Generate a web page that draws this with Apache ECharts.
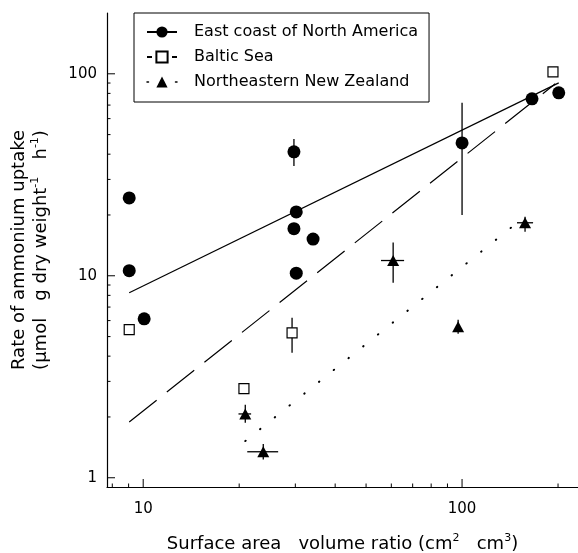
<!DOCTYPE html>
<html>
<head>
<meta charset="utf-8">
<script src="https://cdn.jsdelivr.net/npm/echarts@6/dist/echarts.min.js"></script>
<style>
  html, body { margin: 0; padding: 0; background: #fff; }
  #chart { width: 578px; height: 553px; }
</style>
</head>
<body>
<div id="chart"></div>
<script>
// ---- Data ----
const seriesNames = ['East coast of North America', 'Baltic Sea', 'Northeastern New Zealand'];

const eastX = [9.04, 9.04, 10.07, 29.7, 30.2, 29.7, 34.1, 30.2, 100, 165.7, 201];
const eastY = [24.3, 10.6, 6.12, 41.1, 20.7, 17.1, 15.2, 10.3, 45.5, 75.2, 80.5];

const balticX = [9.04, 20.7, 29.3, 192.8];
const balticY = [5.41, 2.76, 5.22, 102.3];

const nzX = [20.9, 23.8, 60.8, 97.2, 157.6];
const nzY = [2.07, 1.345, 11.9, 5.59, 18.3];

// error bars: [x, y, yLow, yHigh, xLow, xHigh]
const eastErr = [
  [29.7, 41.1, 35.0, 47.6, null, null],
  [100, 45.5, 20.0, 71.8, null, null]
];
const balticErr = [
  [29.3, 5.22, 4.16, 6.2, null, null]
];
const nzErr = [
  [20.9, 2.07, 1.87, 2.30, 19.9, 21.8],
  [23.8, 1.345, 1.23, 1.47, 21.2, 26.5],
  [60.8, 11.9, 9.23, 14.6, 55.7, 65.8],
  [97.2, 5.59, 5.16, 6.06, null, null],
  [157.6, 18.3, 16.5, 19.6, 148.7, 167]
];

// fitted regression lines (end points)
const eastFit = [[9.04, 8.24], [201, 90.2]];
const balticFit = [[9.04, 1.89], [196, 89.2]];
const nzFit = [[20.9, 1.52], [145, 17.7]];

// axes
const xRange = [7.7, 231];
const yRange = [0.9, 200];
const xMajorTicks = [10, 100];
const xMinorTicks = [8, 9, 20, 30, 40, 50, 60, 70, 80, 90, 200];
const yMajorTicks = [1, 10, 100];
const yMinorTicks = [2, 3, 4, 5, 6, 7, 8, 9, 20, 30, 40, 50, 60, 70, 80, 90];

// ---- Build chart ----
const FONT = 'DejaVu Sans';
const zip = (xs, ys) => xs.map((x, i) => [x, ys[i]]);

const tickData = [];
xMajorTicks.forEach(v => tickData.push([v, yRange[0], 0]));
xMinorTicks.forEach(v => tickData.push([v, yRange[0], 1]));
yMajorTicks.forEach(v => tickData.push([xRange[0], v, 2]));
yMinorTicks.forEach(v => tickData.push([xRange[0], v, 3]));

function tickRender(params, api) {
  const p = api.coord([api.value(0), api.value(1)]);
  const kind = api.value(2);
  const len = (kind === 0 || kind === 2) ? 8 : 3.5;
  let shape;
  if (kind < 2) shape = { x1: p[0], y1: p[1], x2: p[0], y2: p[1] - len };
  else shape = { x1: p[0], y1: p[1], x2: p[0] + len, y2: p[1] };
  return { type: 'line', shape, style: { stroke: '#000', lineWidth: 1 } };
}

function errRender(params, api) {
  const x = api.value(0), y = api.value(1);
  const children = [];
  const yl = api.value(2), yh = api.value(3), xl = api.value(4), xh = api.value(5);
  if (yl != null && !isNaN(yl)) {
    const a = api.coord([x, yl]), b = api.coord([x, yh]);
    children.push({ type: 'line', shape: { x1: a[0], y1: a[1], x2: b[0], y2: b[1] }, style: { stroke: '#000', lineWidth: 1.3 } });
  }
  if (xl != null && !isNaN(xl)) {
    const a = api.coord([xl, y]), b = api.coord([xh, y]);
    children.push({ type: 'line', shape: { x1: a[0], y1: a[1], x2: b[0], y2: b[1] }, style: { stroke: '#000', lineWidth: 1.3 } });
  }
  return { type: 'group', children };
}

const isPow10 = v => Math.abs(Math.log10(v) - Math.round(Math.log10(v))) < 1e-6;

const chart = echarts.init(document.getElementById('chart'), null, { renderer: 'canvas' });
chart.setOption({
  animation: false,
  backgroundColor: '#fff',
  textStyle: { fontFamily: FONT, color: '#000' },
  grid: { left: 107, right: 0, top: 13, bottom: 66, containLabel: false, outerBoundsMode: 'none' },
  legend: {
    orient: 'vertical',
    left: 134,
    top: 13,
    padding: [11, 11, 12, 12],
    itemWidth: 30,
    itemHeight: 14,
    itemGap: 9,
    borderColor: '#000',
    borderWidth: 1,
    textStyle: { fontFamily: FONT, fontSize: 16, color: '#000', padding: [0, 0, 0, 12] },
    data: [
      { name: seriesNames[0] },
      { name: seriesNames[1], lineStyle: { type: [5, 20] } },
      { name: seriesNames[2], lineStyle: { type: [1.5, 27], width: 1.5 } }
    ]
  },
  xAxis: {
    type: 'log', logBase: 10, min: xRange[0], max: xRange[1],
    axisLine: { show: true, lineStyle: { color: '#000', width: 1.2 } },
    axisTick: { show: false },
    splitLine: { show: false },
    axisLabel: {
      fontFamily: FONT, fontSize: 15, color: '#000', margin: 15,
      showMinLabel: false, showMaxLabel: false,
      formatter: v => isPow10(v) ? String(Math.round(v)) : ''
    },
    name: 'Surface area   volume ratio (cm{sup|2}   cm{sup|3})',
    nameLocation: 'middle',
    nameGap: 46,
    nameTextStyle: {
      fontFamily: FONT, fontSize: 18, color: '#000', lineHeight: 22,
      rich: { sup: { fontFamily: FONT, fontSize: 11, verticalAlign: 'top', lineHeight: 22, padding: [0, 0, 6, 0] } }
    }
  },
  yAxis: {
    type: 'log', logBase: 10, min: yRange[0], max: yRange[1],
    axisLine: { show: true, lineStyle: { color: '#000', width: 1.2 } },
    axisTick: { show: false },
    splitLine: { show: false },
    axisLabel: {
      fontFamily: FONT, fontSize: 15, color: '#000', margin: 10,
      showMinLabel: false, showMaxLabel: false,
      formatter: v => isPow10(v) ? String(Math.round(v)) : ''
    },
    name: 'Rate of ammonium uptake\n(µmol   g dry weight{sup|-1}   h{sup|-1})',
    nameLocation: 'middle',
    nameGap: 55,
    nameTextStyle: {
      fontFamily: FONT, fontSize: 18, color: '#000', lineHeight: 22, align: 'center',
      rich: { sup: { fontFamily: FONT, fontSize: 11, verticalAlign: 'top', lineHeight: 22, padding: [0, 0, 6, 0] } }
    }
  },
  series: [
    // regression lines (also provide legend icons)
    {
      name: seriesNames[0], type: 'line', data: eastFit, showSymbol: false,
      symbol: 'circle', symbolSize: 12,
      itemStyle: { color: '#000' },
      lineStyle: { color: '#000', width: 1.2, type: 'solid' }, z: 2, silent: true
    },
    {
      name: seriesNames[1], type: 'line', data: balticFit, showSymbol: false,
      symbol: 'rect',
      itemStyle: { color: '#fff', borderColor: '#000', borderWidth: 1 },
      lineStyle: { color: '#000', width: 1.2, type: [35, 13] }, z: 2, silent: true
    },
    {
      name: seriesNames[2], type: 'line', data: nzFit, showSymbol: false,
      symbol: 'triangle',
      itemStyle: { color: '#000' },
      lineStyle: { color: '#000', width: 2, type: [0.5, 18.4], cap: 'round' }, z: 2, silent: true
    },
    // error bars
    { type: 'custom', renderItem: errRender, data: eastErr.concat(balticErr, nzErr), encode: { x: 0, y: 1 }, z: 3, silent: true },
    // data points
    {
      name: 'east-pts', type: 'scatter', data: zip(eastX, eastY), symbol: 'circle', symbolSize: 13,
      itemStyle: { color: '#000', opacity: 1 }, z: 5
    },
    {
      name: 'baltic-pts', type: 'scatter', data: zip(balticX, balticY), symbol: 'rect', symbolSize: 10,
      itemStyle: { color: '#fff', borderColor: '#000', borderWidth: 1.2, opacity: 1 }, z: 5
    },
    {
      name: 'nz-pts', type: 'scatter', data: zip(nzX, nzY), symbol: 'triangle', symbolSize: [12, 11],
      itemStyle: { color: '#000', opacity: 1 }, z: 5
    },
    // axis ticks (major + minor), inward
    { type: 'custom', renderItem: tickRender, data: tickData, encode: { x: 0, y: 1 }, clip: false, z: 6, silent: true }
  ]
});
</script>
</body>
</html>
